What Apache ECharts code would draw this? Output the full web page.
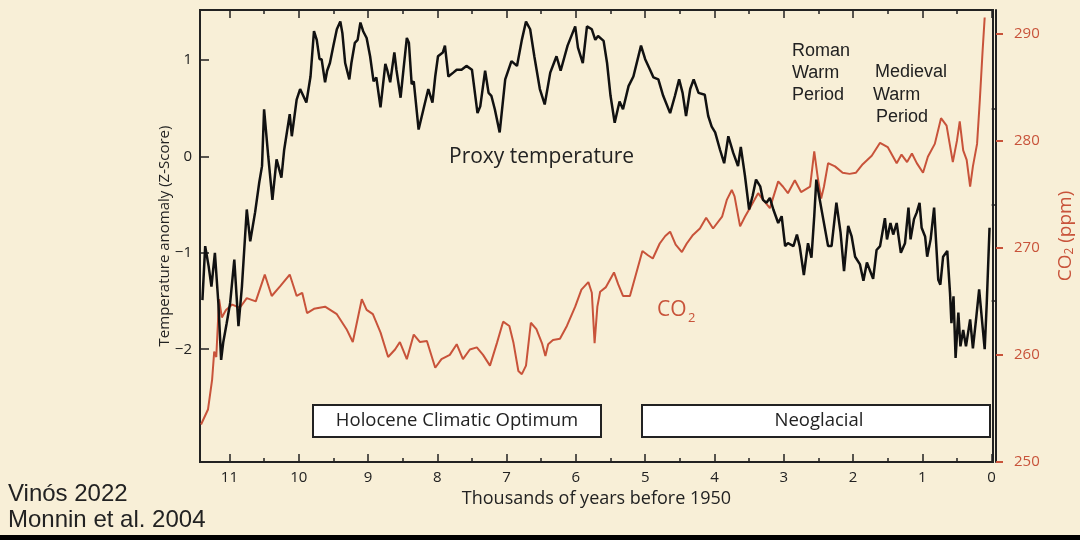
<!DOCTYPE html>
<html>
<head>
<meta charset="utf-8">
<script src="https://cdn.jsdelivr.net/npm/echarts/dist/echarts.min.js"></script>
<style>
html,body{margin:0;padding:0;background:#f8efd7;}
#c{width:1080px;height:540px;}
</style>
</head>
<body>
<div id="c"></div>
<script>
// ---- Data (thousands of years before 1950) ----
const tempAge = [11.39,11.35,11.30,11.26,11.21,11.16,11.12,11.09,11.04,10.99,10.93,10.87,10.82,10.75,10.70,10.63,10.57,10.53,10.50,10.44,10.38,10.32,10.25,10.21,10.13,10.10,10.03,9.98,9.89,9.83,9.78,9.74,9.70,9.67,9.62,9.59,9.55,9.50,9.45,9.40,9.37,9.33,9.27,9.24,9.19,9.15,9.11,9.07,9.02,8.97,8.92,8.88,8.82,8.75,8.72,8.68,8.62,8.59,8.53,8.49,8.44,8.41,8.37,8.34,8.27,8.20,8.13,8.07,8.03,7.99,7.92,7.89,7.84,7.77,7.72,7.65,7.58,7.50,7.42,7.38,7.31,7.26,7.22,7.17,7.10,7.02,6.93,6.85,6.78,6.72,6.66,6.60,6.52,6.45,6.37,6.28,6.22,6.12,6.01,5.97,5.90,5.84,5.77,5.72,5.68,5.60,5.55,5.50,5.44,5.37,5.32,5.24,5.17,5.06,5.00,4.93,4.88,4.81,4.74,4.64,4.57,4.51,4.46,4.41,4.35,4.30,4.23,4.14,4.09,4.04,3.99,3.92,3.86,3.80,3.73,3.66,3.62,3.56,3.50,3.45,3.40,3.34,3.30,3.25,3.20,3.15,3.08,3.03,2.98,2.94,2.86,2.81,2.77,2.71,2.65,2.60,2.56,2.53,2.49,2.43,2.36,2.31,2.24,2.18,2.13,2.07,2.02,1.97,1.90,1.85,1.80,1.71,1.66,1.61,1.54,1.51,1.46,1.42,1.37,1.31,1.25,1.20,1.17,1.12,1.08,1.04,1.01,0.96,0.93,0.88,0.83,0.77,0.74,0.70,0.64,0.60,0.58,0.55,0.52,0.48,0.45,0.41,0.37,0.31,0.27,0.22,0.18,0.10,0.07,0.03];
const tempVal = [-1.49,-0.93,-1.14,-1.35,-1.00,-1.52,-2.11,-1.93,-1.73,-1.52,-1.07,-1.76,-1.35,-0.55,-0.88,-0.58,-0.27,-0.10,0.49,0.00,-0.45,-0.03,-0.22,0.07,0.44,0.21,0.59,0.70,0.56,0.83,1.30,1.21,1.01,1.01,0.77,0.89,0.97,1.15,1.32,1.40,1.28,0.97,0.80,0.97,1.18,1.21,1.39,1.30,1.23,1.04,0.78,0.82,0.51,0.96,0.89,0.77,1.08,0.90,0.61,0.89,1.23,1.18,0.75,0.78,0.28,0.49,0.70,0.56,0.83,1.04,1.08,1.15,0.83,0.87,0.90,0.90,0.94,0.90,0.45,0.52,0.89,0.66,0.63,0.49,0.25,0.80,0.99,0.94,1.21,1.40,1.32,1.04,0.70,0.54,0.87,1.04,0.89,1.15,1.35,1.13,0.97,1.35,1.32,1.21,1.25,1.20,0.97,0.63,0.35,0.57,0.49,0.73,0.83,1.15,1.01,0.90,0.82,0.80,0.63,0.45,0.63,0.80,0.66,0.42,0.70,0.80,0.66,0.64,0.42,0.31,0.25,0.07,-0.07,0.21,0.04,-0.10,0.10,-0.20,-0.55,-0.41,-0.24,-0.31,-0.45,-0.48,-0.43,-0.55,-0.69,-0.62,-0.93,-0.90,-0.93,-0.81,-0.93,-1.23,-0.90,-1.05,-0.62,-0.24,-0.41,-0.65,-0.93,-0.93,-0.48,-0.79,-1.19,-0.72,-0.83,-1.04,-1.12,-1.29,-1.10,-1.27,-0.97,-0.93,-0.64,-0.86,-0.69,-0.81,-0.69,-1.00,-0.90,-0.53,-0.86,-0.65,-0.58,-0.48,-0.74,-0.83,-1.04,-0.86,-0.53,-1.28,-1.33,-1.04,-0.98,-1.42,-1.73,-1.45,-2.09,-1.62,-1.97,-1.80,-1.97,-1.69,-1.99,-1.66,-1.38,-2.00,-1.52,-0.74];

const co2Age = [11.41,11.31,11.25,11.22,11.19,11.15,11.11,11.05,10.96,10.85,10.75,10.62,10.49,10.39,10.27,10.13,10.03,9.95,9.88,9.78,9.62,9.45,9.31,9.22,9.09,9.02,8.93,8.82,8.71,8.61,8.54,8.44,8.34,8.25,8.15,8.03,7.94,7.82,7.72,7.63,7.53,7.43,7.34,7.24,7.14,7.05,6.96,6.90,6.83,6.78,6.72,6.65,6.57,6.49,6.44,6.40,6.33,6.23,6.13,6.01,5.92,5.82,5.77,5.73,5.69,5.65,5.57,5.45,5.39,5.32,5.22,5.13,5.04,4.96,4.89,4.79,4.71,4.64,4.56,4.47,4.40,4.31,4.21,4.12,4.02,3.89,3.82,3.75,3.71,3.63,3.56,3.49,3.42,3.37,3.30,3.20,3.08,3.01,2.94,2.84,2.75,2.62,2.56,2.51,2.46,2.42,2.36,2.26,2.15,2.05,1.96,1.86,1.73,1.61,1.50,1.37,1.30,1.22,1.15,1.08,0.99,0.92,0.82,0.73,0.65,0.56,0.50,0.46,0.41,0.36,0.31,0.27,0.21,0.17,0.13,0.10];
const co2Val = [253.5,254.9,257.7,260.3,259.8,265.2,263.5,264.2,264.7,264.4,265.3,265.0,267.5,265.5,266.4,267.5,265.5,265.8,263.9,264.3,264.5,263.8,262.4,261.2,265.2,264.2,263.8,262.1,259.8,260.5,261.2,259.6,261.9,261.2,261.3,258.8,259.6,260.0,261.0,259.6,260.5,260.7,260.0,259.0,261.1,263.1,262.7,261.1,258.5,258.2,259.0,263.0,262.4,261.1,259.9,261.0,261.4,261.5,262.7,264.5,266.1,266.8,265.8,261.1,264.5,265.9,266.3,267.7,266.6,265.5,265.5,267.6,269.7,269.3,269.0,270.4,271.1,271.5,270.3,269.6,270.4,271.2,271.8,272.8,271.8,272.9,274.5,275.4,274.8,272.0,272.9,273.7,274.5,275.1,274.5,273.7,276.2,275.7,275.1,276.3,275.2,275.7,279.0,276.6,274.6,275.7,277.9,277.6,277.0,276.9,277.0,277.8,278.6,279.8,279.4,277.9,278.7,278.0,278.8,277.9,277.0,278.5,279.7,282.1,281.4,278.0,280.0,281.8,279.1,278.2,275.7,277.6,279.7,283.8,288.4,291.5];

const xMajorTicks = [0,1,2,3,4,5,6,7,8,9,10,11];
const xMinorTicks = [0.5,1.5,2.5,3.5,4.5,5.5,6.5,7.5,8.5,9.5,10.5];
const tMajorTicks = [-2,-1,0,1];
const tMinorTicks = [-1.5,-0.5,0.5];
const co2Ticks = [250,260,270,280,290];

const X_MIN = -0.02, X_MAX = 11.425;
const T_MIN = -3.17, T_MAX = 1.52;
const C_MIN = 250, C_MAX = 292.2;

const RED = '#c8533a';
const INK = '#222';
const FONT = '"Open Sans", "DejaVu Sans", sans-serif';
const ARIAL = '"Liberation Sans", Arial, sans-serif';

const chart = echarts.init(document.getElementById('c'), null, {renderer: 'canvas'});

function xAx(pos, ticks, len, showLabel, showLine) {
  return {
    type: 'value', position: pos, min: X_MIN, max: X_MAX, inverse: true,
    splitLine: {show: false},
    axisLine: {show: showLine, onZero: false, lineStyle: {color: INK, width: 2}},
    axisTick: {show: true, inside: true, length: len, customValues: ticks, lineStyle: {color: INK, width: 1.5}},
    axisLabel: {show: showLabel, customValues: ticks, color: INK, fontSize: 15, fontFamily: FONT, margin: 8},
  };
}

const option = {
  backgroundColor: '#f8efd7',
  animation: false,
  grid: {left: 200, right: 87, top: 10, bottom: 78, containLabel: false, outerBoundsMode: 'none',
    show: true, borderColor: INK, borderWidth: 2, backgroundColor: 'transparent'},
  xAxis: [
    Object.assign(xAx('bottom', xMajorTicks, 8, true, true), {
      name: 'Thousands of years before 1950', nameLocation: 'middle', nameGap: 28, nameMoveOverlap: false,
      nameTextStyle: {color: INK, fontSize: 18, fontFamily: FONT}
    }),
    xAx('bottom', xMinorTicks, 4, false, false),
    xAx('top', xMajorTicks, 8, false, false),
    xAx('top', xMinorTicks, 4, false, false)
  ],
  yAxis: [
    {
      type: 'value', position: 'left', min: T_MIN, max: T_MAX,
      splitLine: {show: false},
      axisLine: {show: true, onZero: false, lineStyle: {color: INK, width: 2}},
      axisTick: {show: true, inside: true, length: 9, customValues: tMajorTicks, lineStyle: {color: INK, width: 1.5}},
      axisLabel: {customValues: tMajorTicks, color: INK, fontSize: 15, fontFamily: FONT, margin: 8,
        formatter: v => (v < 0 ? '\u2212' + Math.abs(v) : String(v))},
      name: 'Temperature anomaly (Z-Score)', nameLocation: 'middle', nameGap: 28, nameRotate: 90, nameMoveOverlap: false,
      nameTextStyle: {color: INK, fontSize: 15, fontFamily: FONT}
    },
    {
      type: 'value', position: 'left', min: T_MIN, max: T_MAX,
      splitLine: {show: false}, axisLine: {show: false},
      axisTick: {show: true, inside: true, length: 5, customValues: tMinorTicks, lineStyle: {color: INK, width: 1.5}},
      axisLabel: {show: false}
    },
    {
      type: 'value', position: 'right', offset: 3, min: C_MIN, max: C_MAX,
      splitLine: {show: false},
      axisLine: {show: true, onZero: false, lineStyle: {color: INK, width: 2}},
      axisTick: {show: true, inside: false, length: 7, customValues: co2Ticks, lineStyle: {color: RED, width: 2}},
      axisLabel: {customValues: co2Ticks, color: RED, fontSize: 15, fontFamily: FONT, margin: 18},
      name: '{a|CO}{b|2}{a| (ppm)}', nameLocation: 'middle', nameGap: 60, nameRotate: 90, nameMoveOverlap: false,
      nameTextStyle: {color: RED, fontSize: 19, fontFamily: FONT,
        rich: {a: {color: RED, fontSize: 19, fontFamily: FONT}, b: {color: RED, fontSize: 12, fontFamily: FONT, verticalAlign: 'bottom', padding: [8,0,0,0]}}}
    }
  ],
  series: [
    {
      name: 'CO2', type: 'line', xAxisIndex: 0, yAxisIndex: 2, showSymbol: false, symbol: 'none',
      lineStyle: {color: RED, width: 2}, z: 3,
      data: co2Age.map((a, i) => [a, co2Val[i]])
    },
    {
      name: 'Proxy temperature', type: 'line', xAxisIndex: 0, yAxisIndex: 0, showSymbol: false, symbol: 'none',
      lineStyle: {color: '#111', width: 2.5}, z: 4,
      data: tempAge.map((a, i) => [a, tempVal[i]])
    }
  ],
  graphic: [
    {type: 'text', x: 449, y: 157, style: {text: 'Proxy temperature', fill: INK, font: '21px ' + FONT, verticalAlign: 'middle'}},
    {type: 'text', x: 657, y: 310, style: {text: 'CO', fill: RED, font: '21px ' + FONT, verticalAlign: 'middle'}},
    {type: 'text', x: 688, y: 318, style: {text: '2', fill: RED, font: '13px ' + FONT, verticalAlign: 'middle'}},
    {type: 'text', x: 792, y: 51, style: {text: 'Roman', fill: INK, font: '18px ' + ARIAL, verticalAlign: 'middle'}},
    {type: 'text', x: 792, y: 73, style: {text: 'Warm', fill: INK, font: '18px ' + ARIAL, verticalAlign: 'middle'}},
    {type: 'text', x: 792, y: 95, style: {text: 'Period', fill: INK, font: '18px ' + ARIAL, verticalAlign: 'middle'}},
    {type: 'text', x: 875, y: 72.5, style: {text: 'Medieval', fill: INK, font: '18px ' + ARIAL, verticalAlign: 'middle'}},
    {type: 'text', x: 873, y: 95, style: {text: 'Warm', fill: INK, font: '18px ' + ARIAL, verticalAlign: 'middle'}},
    {type: 'text', x: 876, y: 117, style: {text: 'Period', fill: INK, font: '18px ' + ARIAL, verticalAlign: 'middle'}},
    {type: 'rect', shape: {x: 313, y: 405, width: 288, height: 32}, style: {fill: '#fff', stroke: INK, lineWidth: 2}, z: 10},
    {type: 'text', x: 457, y: 421, z: 11, style: {text: 'Holocene Climatic Optimum', fill: INK, font: '18.5px ' + FONT, align: 'center', verticalAlign: 'middle'}},
    {type: 'rect', shape: {x: 642, y: 405, width: 348, height: 32}, style: {fill: '#fff', stroke: INK, lineWidth: 2}, z: 10},
    {type: 'text', x: 819, y: 421, z: 11, style: {text: 'Neoglacial', fill: INK, font: '18.5px ' + FONT, align: 'center', verticalAlign: 'middle'}},
    {type: 'text', x: 8, y: 494, style: {text: 'Vinós 2022', fill: INK, font: '24px ' + ARIAL, verticalAlign: 'middle'}},
    {type: 'text', x: 8, y: 520, style: {text: 'Monnin et al. 2004', fill: INK, font: '24px ' + ARIAL, verticalAlign: 'middle'}},
    {type: 'rect', shape: {x: 0, y: 535, width: 1080, height: 5}, style: {fill: '#000'}}
  ]
};
chart.setOption(option);
</script>
</body>
</html>
